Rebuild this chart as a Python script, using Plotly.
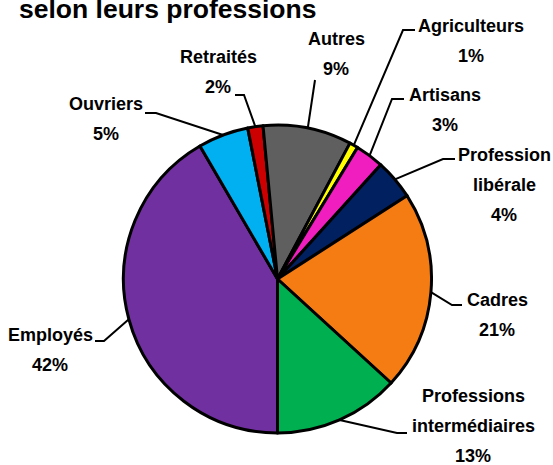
import math
import plotly.graph_objects as go

# ---------------- data ----------------
categories = ["Employés", "Ouvriers", "Retraités", "Autres", "Agriculteurs",
              "Artisans", "Profession libérale", "Cadres", "Professions intermédiaires"]
shares = [41.6, 5.3, 1.6, 9.3, 0.9, 3.0, 4.2, 20.9, 13.2]
display_names = ["Employés", "Ouvriers", "Retraités", "Autres", "Agriculteurs",
                 "Artisans", "Profession<br>libérale", "Cadres", "Professions<br>intermédiaires"]
colors = ["#7030A0", "#00B0F0", "#CC0000", "#5F5F5F", "#FFFF00",
          "#F01EBE", "#002060", "#F57C13", "#00B050"]
title_text = "selon leurs professions"

# ---------------- layout constants (page pixels) ----------------
W, H = 553, 465
CX, CY, R = 277.5, 279.0, 154.0
ROT = 180
LINE_GAP = 30
# per label: text x centre, first-line y centre, elbow (x, y), end of horizontal tick x
label_layout = {
    "Employés": (50, 335, 104, 341, 95),
    "Ouvriers": (106, 104, 156, 113, 145),
    "Retraités": (218, 57, 244, 95, 235),
    "Autres": (336, 39, 315, 80, 315),
    "Agriculteurs": (471, 26, 403, 30, 415),
    "Artisans": (445, 95, 392, 99, 404),
    "Profession libérale": (504, 155, 443, 159, 455),
    "Cadres": (497, 300, 452, 305, 462),
    "Professions intermédiaires": (473, 396, 397, 433, 407),
}


def px(x):
    return x / W


def py(y):
    return 1 - y / H


total = sum(shares)

fig = go.Figure(go.Pie(
    labels=categories,
    values=shares,
    sort=False,
    direction="clockwise",
    rotation=ROT,
    marker=dict(colors=colors, line=dict(color="black", width=3)),
    textinfo="none",
    hoverinfo="label+percent",
    showlegend=False,
    domain=dict(x=[px(CX) - 0.3, px(CX) + 0.3],
                y=[py(CY) - R / H, py(CY) + R / H]),
))

label_font = dict(family="Liberation Sans, Arial, sans-serif",
                  size=18, color="black", weight="bold")

annotations = []
shapes = []
cum = 0.0
for name, disp, v in zip(categories, display_names, shares):
    span = 360.0 * v / total
    mid = math.radians(ROT + cum + span / 2)
    cum += span
    ax = CX + R * math.sin(mid)
    ay = CY - R * math.cos(mid)
    tx, ty, ex, ey, fx = label_layout[name]
    pct = round(100 * v / total)
    lines = disp.split("<br>") + [f"{pct}%"]
    for i, line in enumerate(lines):
        annotations.append(dict(
            x=px(tx), y=py(ty + i * LINE_GAP), xref="paper", yref="paper",
            text=line, showarrow=False,
            xanchor="center", yanchor="middle", align="center",
            font=label_font,
        ))
    shapes.append(dict(
        type="path", xref="paper", yref="paper",
        path=f"M {px(ax)},{py(ay)} L {px(ex)},{py(ey)} L {px(fx)},{py(ey)}",
        line=dict(color="black", width=2),
    ))

annotations.append(dict(
    x=px(17), y=py(9), xref="paper", yref="paper",
    text=title_text, showarrow=False, xanchor="left", yanchor="middle",
    font=dict(family="Liberation Sans, Arial, sans-serif", size=26.5,
              color="black", weight="bold"),
))

fig.update_layout(
    width=W, height=H,
    margin=dict(l=0, r=0, t=0, b=0),
    paper_bgcolor="white",
    plot_bgcolor="white",
    annotations=annotations,
    shapes=shapes,
)

fig.write_html(
    "out.html",
    config={"displayModeBar": False},
    post_script="document.body.style.margin='0';document.body.style.overflow='hidden';",
)
